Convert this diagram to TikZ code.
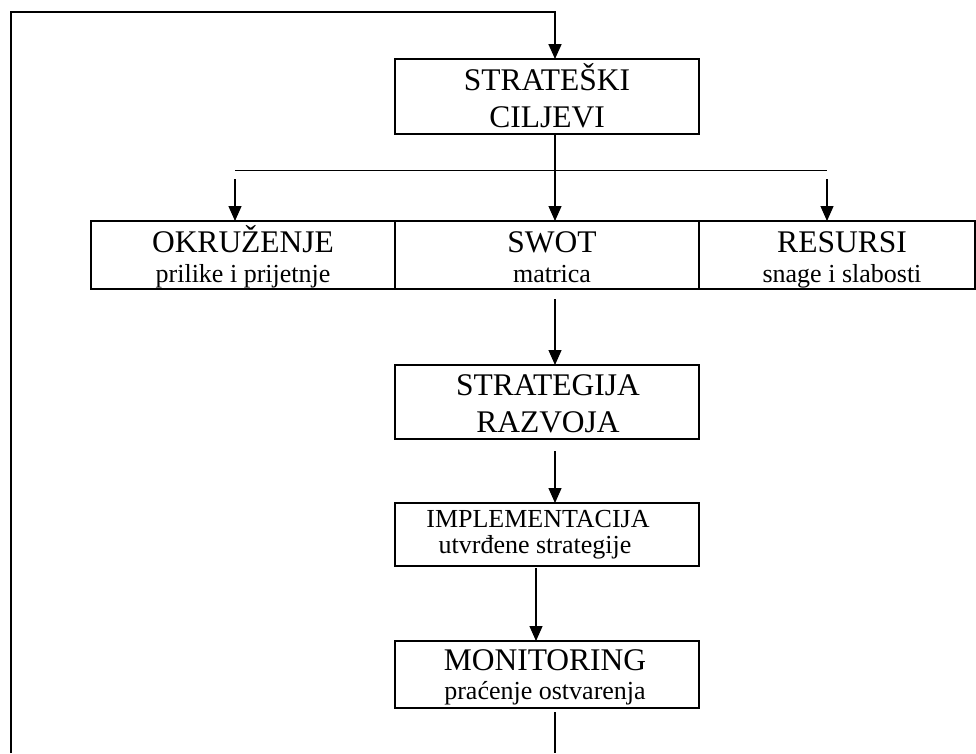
\documentclass[tikz,border=0pt]{standalone}
\usepackage{fontspec}
\setmainfont{Liberation Serif}
\usetikzlibrary{arrows.meta}
\tikzset{
  box/.style={draw, line width=1.5pt, rectangle, inner sep=0pt, outer sep=0pt},
  big/.style={font=\fontsize{31.5}{37}\selectfont, inner sep=0pt, anchor=base},
  small/.style={font=\fontsize{26}{30}\selectfont, inner sep=0pt, anchor=base},
  conn/.style={line width=1.3pt},
  arr/.style={line width=1.3pt, -{Triangle[length=15pt,width=13pt]}},
}
\begin{document}
\begin{tikzpicture}[x=1pt,y=-1pt]
\useasboundingbox (0,0) rectangle (976,753);
% boxes
\node[box, minimum width=304pt, minimum height=75pt] (strat) at (547,96.5) {};
\node[box, minimum width=304pt, minimum height=68pt] (okr) at (243,255) {};
\node[box, minimum width=304pt, minimum height=68pt] (swot) at (547,255) {};
\node[box, minimum width=276pt, minimum height=68pt] (res) at (837,255) {};
\node[box, minimum width=304pt, minimum height=74pt] (strg) at (547,402) {};
\node[box, minimum width=304pt, minimum height=63pt] (impl) at (547,534.5) {};
\node[box, minimum width=304pt, minimum height=67pt] (mon) at (547,674.5) {};
% texts
\node[big] (t1a) at (547,90) {STRATEŠKI};
\node[big] (t1b) at (547,127) {CILJEVI};
\node[big] (t2a) at (243,252) {OKRUŽENJE};
\node[small] (t2b) at (243,282) {prilike i prijetnje};
\node[big] (t3a) at (552,252) {SWOT};
\node[small] (t3b) at (552,282) {matrica};
\node[big] (t4a) at (842,252) {RESURSI};
\node[small] (t4b) at (842,282) {snage i slabosti};
\node[big] (t5a) at (548,395) {STRATEGIJA};
\node[big] (t5b) at (548,432) {RAZVOJA};
\node[small] (t6a) at (538,527) {IMPLEMENTACIJA};
\node[small] (t6b) at (535,553) {utvrđene strategije};
\node[big] (t7a) at (545,670) {MONITORING};
\node[small] (t7b) at (545,699) {praćenje ostvarenja};
% coordinates
\coordinate (c0) at (11,753);
\coordinate (c1) at (11,12);
\coordinate (c2) at (555,12);
\coordinate (hl) at (235,170);
\coordinate (hr) at (827,170);
\coordinate (al) at (235,179);
\coordinate (ar) at (827,179);
\coordinate (c3) at (536,0);
\coordinate (c4) at (555,753);
% connectors
\draw[arr, line width=1.7pt] (c0) -- (c1) -- (c2) -- (strat.north -| c2);
\draw[conn, line width=1pt] (hl) -- (hr);
\draw[arr] (strat.south -| c2) -- (swot.north -| c2);
\draw[arr] (al) -- (okr.north -| al);
\draw[arr] (ar) -- (res.north -| ar);
\draw[arr, shorten <=10pt] (swot.south -| c2) -- (strg.north -| c2);
\draw[arr, shorten <=12pt] (strg.south -| c2) -- (impl.north -| c2);
\draw[arr, shorten <=2pt] (impl.south -| c3) -- (mon.north -| c3);
\draw[conn, shorten <=4pt] (mon.south -| c4) -- (c4);
\end{tikzpicture}
\end{document}
